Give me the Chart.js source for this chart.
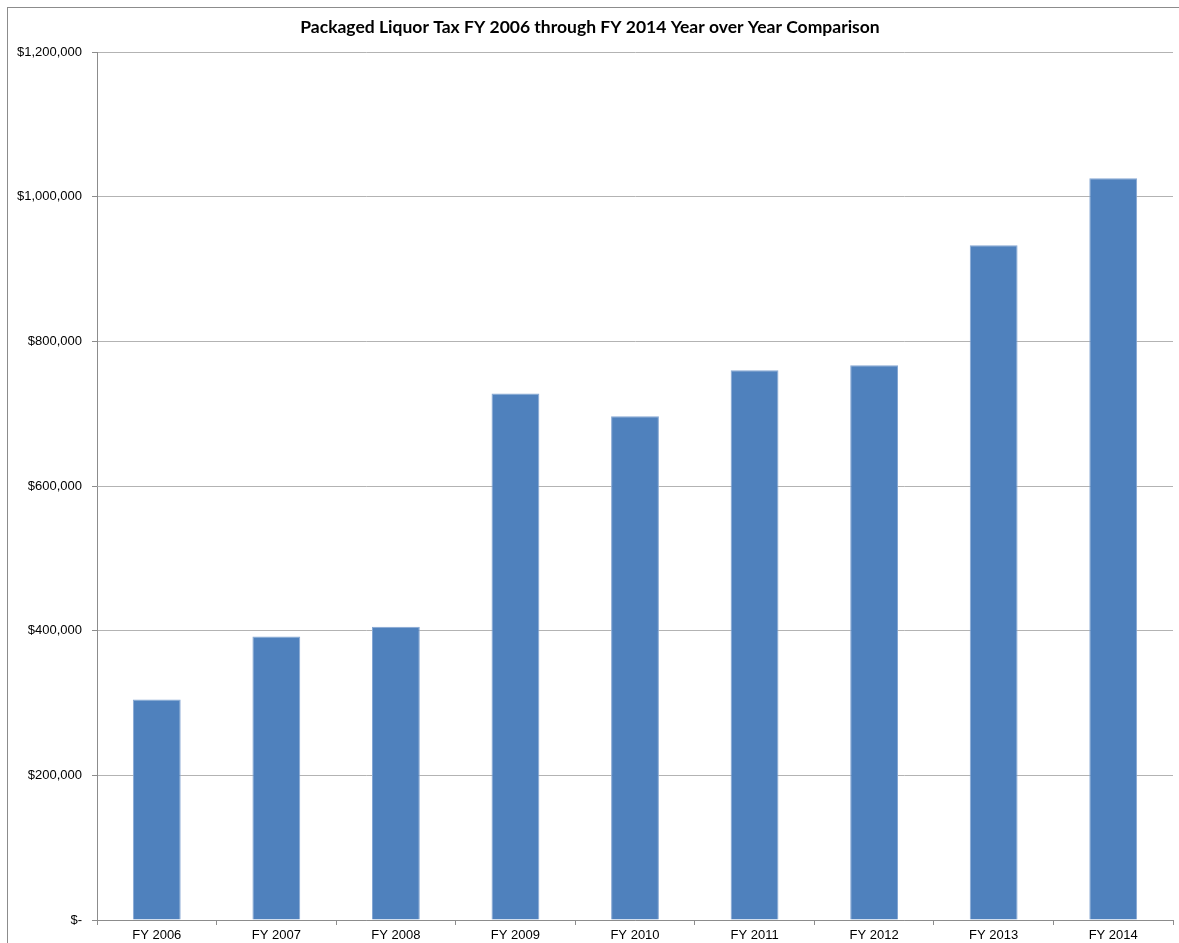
<!DOCTYPE html>
<html>
<head>
<meta charset="utf-8">
<title>Packaged Liquor Tax</title>
<script src="https://cdn.jsdelivr.net/npm/chart.js@4/dist/chart.umd.min.js"></script>
<style>
  html, body { margin: 0; padding: 0; background: #fff; }
  #wrap { width: 1179px; height: 943px; }
</style>
</head>
<body>
<div id="wrap"><canvas id="chart" width="1179" height="943"></canvas></div>
<script>
const TITLE = "Packaged Liquor Tax FY 2006 through FY 2014 Year over Year Comparison";
const years = ["FY 2006", "FY 2007", "FY 2008", "FY 2009", "FY 2010", "FY 2011", "FY 2012", "FY 2013", "FY 2014"];
// read off the picture, so approximate
const taxCollected = [305000, 392000, 405500, 728000, 696500, 760000, 767000, 933000, 1025500];
const yTicks = [0, 200000, 400000, 600000, 800000, 1000000, 1200000];

const money = (v) => v === 0 ? "$-" : "$" + v.toLocaleString("en-US");

// thin outer frame like the spreadsheet chart box
const frame = {
  id: "frame",
  beforeDraw(c) {
    const ctx = c.ctx;
    ctx.save();
    ctx.strokeStyle = "#8c8c8c";
    ctx.lineWidth = 1;
    ctx.strokeRect(7.5, 7.5, 1200, 1000);
    ctx.restore();
  },
};

Chart.defaults.font.family = "'Liberation Sans', Arial, sans-serif";
Chart.defaults.font.size = 13;
Chart.defaults.color = "#000";

new Chart(document.getElementById("chart"), {
  type: "bar",
  data: {
    labels: years,
    datasets: [{
      label: "Packaged Liquor Tax",
      data: taxCollected,
      backgroundColor: "#4F81BD",
      borderColor: "#86a7d3",
      borderWidth: 1,
      barPercentage: 0.4,
      categoryPercentage: 1,
    }],
  },
  options: {
    responsive: false,
    animation: false,
    layout: { padding: { left: 7, right: 6, top: 0, bottom: 0 } },
    plugins: {
      legend: { display: false },
      tooltip: { enabled: false },
      title: {
        display: true,
        text: TITLE,
        color: "#000",
        font: { family: "Lato, 'Open Sans', sans-serif", size: 17.5, weight: "bold", lineHeight: 1.2 },
        padding: { top: 17, bottom: 14 },
      },
    },
    scales: {
      x: {
        grid: { offset: true, drawOnChartArea: false, tickLength: 5, color: "#8c8c8c" },
        border: { color: "#8c8c8c" },
        ticks: { padding: 3, maxRotation: 0, autoSkip: false },
        afterFit: (s) => { s.height = 23; },
      },
      y: {
        min: 0,
        max: 1200000,
        afterBuildTicks: (s) => { s.ticks = yTicks.map((v) => ({ value: v })); },
        ticks: { callback: (v) => money(v), padding: 10 },
        grid: { color: "#b3b3b3", tickLength: 5, tickColor: "#8c8c8c" },
        border: { color: "#8c8c8c" },
        afterFit: (s) => { s.width = 90; },
      },
    },
  },
  plugins: [frame],
});
</script>
</body>
</html>
